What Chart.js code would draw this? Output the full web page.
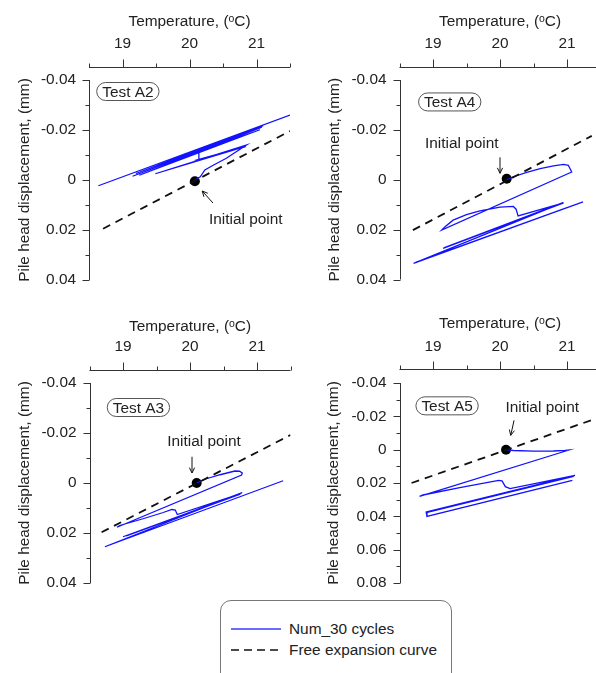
<!DOCTYPE html>
<html>
<head>
<meta charset="utf-8">
<script src="https://cdn.jsdelivr.net/npm/chart.js@4.4.1/dist/chart.umd.min.js"></script>
<style>
html, body { margin: 0; padding: 0; background: #fff; overflow: hidden; }
body { width: 596px; height: 673px; position: relative; font-family: 'Liberation Sans', Arial, sans-serif; color: #222; }
canvas { position: absolute; }
#legend {
    position: absolute; left: 220px; top: 600px; width: 232px; height: 100px;
    border: 1px solid #777; border-radius: 11px; box-sizing: border-box;
}
.row { position: absolute; left: 9px; height: 20px; display: flex; align-items: center; font-size: 15.4px; }
.row svg { margin-right: 7px; }
</style>
</head>
<body>
<canvas id="a2" width="296" height="300" style="left:0;top:0"></canvas>
<canvas id="a4" width="310" height="300" style="left:296px;top:0"></canvas>
<canvas id="a3" width="296" height="300" style="left:0;top:300px"></canvas>
<canvas id="a5" width="310" height="300" style="left:296px;top:300px"></canvas>
<div id="legend">
  <div class="row" style="top:18px"><svg width="52" height="4"><line x1="1" y1="2" x2="51" y2="2" stroke="#3a3aff" stroke-width="1.6"/></svg>Num_30 cycles</div>
  <div class="row" style="top:39px"><svg width="52" height="4"><line x1="1" y1="2" x2="51" y2="2" stroke="#111" stroke-width="1.6" stroke-dasharray="8,5"/></svg>Free expansion curve</div>
</div>
<script>
const fontFamily = "'Liberation Sans', Arial, sans-serif";
const fontSize = 15.4;
const ink = '#222';
const blue = '#1212ff';

const tempMin = 18.5;
const tempMax = 21.5;
const tempLabelled = [19, 20, 21];
const dispLabelled = [-0.04, -0.02, 0, 0.02, 0.04];
const dispLabelledA5 = [-0.04, -0.02, 0, 0.02, 0.04, 0.06, 0.08];

// Test A2
const a2CycleT = [20.08, 20.16, 20.23, 20.36, 20.55, 20.85, 19.49, 20.84, 20.13, 20.14, 21.05, 19.25, 21.08, 19.15, 21.10, 19.20, 21.12, 18.64, 21.50];
const a2CycleD = [0.0000, -0.0013, -0.0040, -0.0060, -0.0087, -0.0140, -0.0025, -0.0134, -0.0082, -0.0112, -0.0201, -0.0019, -0.0211, -0.0015, -0.0217, -0.0026, -0.0222, 0.0023, -0.0260];
const a2FreeT = [18.71, 21.50];
const a2FreeD = [0.0195, -0.0196];
const a2StartT = [20.08];
const a2StartD = [0.0005];

// Test A4
const a4CycleT = [20.10, 20.19, 20.40, 20.60, 20.80, 20.95, 21.02, 21.07, 19.13, 19.18, 19.30, 19.50, 19.70, 20.00, 20.20, 20.24, 20.27, 20.95, 19.15, 20.93, 19.17, 20.94, 18.71, 21.00, 18.74, 21.24];
const a4CycleD = [0.0000, -0.0011, -0.0030, -0.0045, -0.0056, -0.0062, -0.0058, -0.0031, 0.0202, 0.0188, 0.0162, 0.0140, 0.0125, 0.0110, 0.0107, 0.0118, 0.0145, 0.0093, 0.0275, 0.0095, 0.0272, 0.0092, 0.0335, 0.0112, 0.0331, 0.0089];
const a4FreeT = [18.70, 21.37];
const a4FreeD = [0.0202, -0.0176];
const a4StartT = [20.10];
const a4StartD = [-0.0004];

// Test A3
const a3CycleT = [20.10, 20.22, 20.45, 20.67, 20.74, 20.78, 20.77, 18.91, 18.95, 19.30, 19.60, 19.73, 19.78, 19.81, 20.77, 19.00, 20.75, 19.05, 20.78, 18.73, 21.39];
const a3CycleD = [0.0000, -0.0015, -0.0033, -0.0048, -0.0047, -0.0040, -0.0032, 0.0177, 0.0170, 0.0143, 0.0118, 0.0106, 0.0108, 0.0126, 0.0041, 0.0215, 0.0045, 0.0212, 0.0038, 0.0255, -0.0009];
const a3FreeT = [18.68, 21.50];
const a3FreeD = [0.0197, -0.0192];
const a3StartT = [20.10];
const a3StartD = [0.0000];

// Test A5
const a5CycleT = [20.09, 20.20, 20.50, 20.80, 20.97, 21.03, 18.80, 18.85, 19.40, 19.98, 20.03, 20.08, 20.15, 21.12, 18.89, 21.10, 18.90, 18.91, 21.08];
const a5CycleD = [0.0000, 0.0005, 0.0009, 0.0008, 0.0004, 0.0002, 0.0280, 0.0272, 0.0228, 0.0184, 0.0187, 0.0222, 0.0234, 0.0154, 0.0375, 0.0160, 0.0378, 0.0400, 0.0184];
const a5FreeT = [18.68, 21.50];
const a5FreeD = [0.0200, -0.0196];
const a5StartT = [20.09];
const a5StartD = [0.0000];

function pts(T, D) {
    return T.map((t, i) => ({ x: t, y: D[i] }));
}

function near(list, v) {
    return list.some((l) => Math.abs(l - v) < 1e-9);
}

// axis lines, tick marks, test tags and the "Initial point" note
const panelDeco = {
    id: 'panelDeco',
    afterDraw(chart, args, opts) {
        const { ctx, chartArea: area, scales: { x, y } } = chart;
        ctx.save();
        ctx.strokeStyle = '#333';
        ctx.lineWidth = 1;
        ctx.beginPath();
        const ax = Math.round(area.top - opts.gap) + 0.5;
        ctx.moveTo(x.left, ax);
        ctx.lineTo(x.right, ax);
        x.ticks.forEach((t) => {
            const px = Math.round(x.getPixelForValue(t.value)) + 0.5;
            ctx.moveTo(px, ax);
            ctx.lineTo(px, ax - (t.label ? 8 : 4));
        });
        const ay = Math.round(area.left) + 0.5;
        ctx.moveTo(ay, y.top);
        ctx.lineTo(ay, y.bottom);
        y.ticks.forEach((t) => {
            const py = Math.round(y.getPixelForValue(t.value)) + 0.5;
            ctx.moveTo(ay, py);
            ctx.lineTo(ay - (t.label ? 7 : 4), py);
        });
        ctx.stroke();

        ctx.font = fontSize + 'px ' + fontFamily;
        ctx.fillStyle = ink;
        ctx.textAlign = 'center';
        ctx.textBaseline = 'middle';

        // test tag
        const tx = x.getPixelForValue(opts.tag.t);
        const ty = y.getPixelForValue(opts.tag.d);
        const w = ctx.measureText(opts.tag.text).width + 11;
        ctx.beginPath();
        ctx.roundRect(tx - w / 2, ty - 9, w, 18, 9);
        ctx.strokeStyle = '#555';
        ctx.stroke();
        ctx.fillText(opts.tag.text, tx, ty + 1);

        // note + arrow
        ctx.fillText('Initial point', x.getPixelForValue(opts.note.t), y.getPixelForValue(opts.note.d));
        const x1 = x.getPixelForValue(opts.arrow[0]), y1 = y.getPixelForValue(opts.arrow[1]);
        const x2 = x.getPixelForValue(opts.arrow[2]), y2 = y.getPixelForValue(opts.arrow[3]);
        const ang = Math.atan2(y2 - y1, x2 - x1);
        ctx.strokeStyle = '#111';
        ctx.beginPath();
        ctx.moveTo(x1, y1);
        ctx.lineTo(x2, y2);
        ctx.moveTo(x2 - 6 * Math.cos(ang - 0.45), y2 - 6 * Math.sin(ang - 0.45));
        ctx.lineTo(x2, y2);
        ctx.lineTo(x2 - 6 * Math.cos(ang + 0.45), y2 - 6 * Math.sin(ang + 0.45));
        ctx.stroke();
        ctx.restore();
    }
};

function makePanel(id, p) {
    const canvas = document.getElementById(id);
    const font = { family: fontFamily, size: fontSize };
    return new Chart(canvas, {
        type: 'scatter',
        data: {
            datasets: [
                {
                    data: pts(p.freeT, p.freeD), showLine: true, borderColor: '#111', borderWidth: 1.8,
                    borderDash: [8, 6], pointRadius: 0, tension: 0
                },
                {
                    data: pts(p.cycleT, p.cycleD), showLine: true, borderColor: blue, borderWidth: 1.3,
                    pointRadius: 0, tension: 0
                },
                {
                    data: pts(p.startT, p.startD), showLine: false, pointRadius: 5,
                    backgroundColor: '#000', borderColor: '#000', borderWidth: 0
                }
            ]
        },
        options: {
            responsive: false,
            animation: false,
            devicePixelRatio: 1,
            layout: { padding: { left: 0, top: 0, right: canvas.width - p.right, bottom: canvas.height - p.bottom } },
            plugins: {
                legend: { display: false },
                tooltip: { enabled: false },
                panelDeco: { gap: p.gap, tag: p.tag, note: p.note, arrow: p.arrow }
            },
            scales: {
                x: {
                    type: 'linear', position: 'top', min: tempMin, max: tempMax,
                    afterFit: (s) => { s.height = p.top; },
                    // tick marks are drawn by panelDeco; tickLength only sets the label offset
                    grid: { display: false, drawTicks: true, tickLength: 27 }, border: { display: false },
                    ticks: {
                        stepSize: 0.5, autoSkip: false, maxRotation: 0, padding: 0, color: ink, font: font,
                        callback: (v) => near(tempLabelled, v) ? String(Math.round(v)) : ''
                    },
                    title: { display: true, text: 'Temperature, (ᵒC)', color: ink, font: font, padding: { top: p.xTitle, bottom: 0 } }
                },
                y: {
                    type: 'linear', reverse: true, min: -0.04, max: p.yMax,
                    afterFit: (s) => { s.width = p.left; },
                    grid: { display: false, drawTicks: true, tickLength: 13 }, border: { display: false },
                    ticks: {
                        stepSize: 0.01, autoSkip: false, padding: 0, color: ink, font: font,
                        callback: (v) => near(p.labels, v) ? (Math.abs(v) < 1e-9 ? '0' : v.toFixed(2)) : ''
                    },
                    title: { display: true, text: 'Pile head displacement, (mm)', color: ink, font: font, padding: { top: p.yTitle, bottom: 0 } }
                }
            }
        },
        plugins: [panelDeco]
    });
}

makePanel('a2', {
    cycleT: a2CycleT, cycleD: a2CycleD, freeT: a2FreeT, freeD: a2FreeD, startT: a2StartT, startD: a2StartD,
    yMax: 0.04, labels: dispLabelled,
    left: 89, top: 80, right: 290, bottom: 280, gap: 13, xTitle: 13, yTitle: 16,
    tag: { text: 'Test A2', t: 19.08, d: -0.0354 }, note: { t: 20.84, d: 0.0160 }, arrow: [20.35, 0.0092, 20.19, 0.0044]
});
makePanel('a4', {
    cycleT: a4CycleT, cycleD: a4CycleD, freeT: a4FreeT, freeD: a4FreeD, startT: a4StartT, startD: a4StartD,
    yMax: 0.04, labels: dispLabelled,
    left: 103.5, top: 80, right: 304.5, bottom: 279.5, gap: 13, xTitle: 12.7, yTitle: 29.3,
    tag: { text: 'Test A4', t: 19.25, d: -0.0312 }, note: { t: 19.43, d: -0.0146 }, arrow: [20.00, -0.0090, 20.00, -0.0026]
});
makePanel('a3', {
    cycleT: a3CycleT, cycleD: a3CycleD, freeT: a3FreeT, freeD: a3FreeD, startT: a3StartT, startD: a3StartD,
    yMax: 0.04, labels: dispLabelled,
    left: 89.5, top: 83, right: 290.5, bottom: 283, gap: 13, xTitle: 17.7, yTitle: 16,
    tag: { text: 'Test A3', t: 19.23, d: -0.0302 }, note: { t: 20.21, d: -0.0165 }, arrow: [20.03, -0.0105, 20.03, -0.0040]
});
makePanel('a5', {
    cycleT: a5CycleT, cycleD: a5CycleD, freeT: a5FreeT, freeD: a5FreeD, startT: a5StartT, startD: a5StartD,
    yMax: 0.08, labels: dispLabelledA5,
    left: 103.5, top: 83, right: 304.5, bottom: 283, gap: 14, xTitle: 15, yTitle: 29,
    tag: { text: 'Test A5', t: 19.21, d: -0.0263 }, note: { t: 20.63, d: -0.0254 }, arrow: [20.21, -0.0176, 20.16, -0.0086]
});
</script>
</body>
</html>
